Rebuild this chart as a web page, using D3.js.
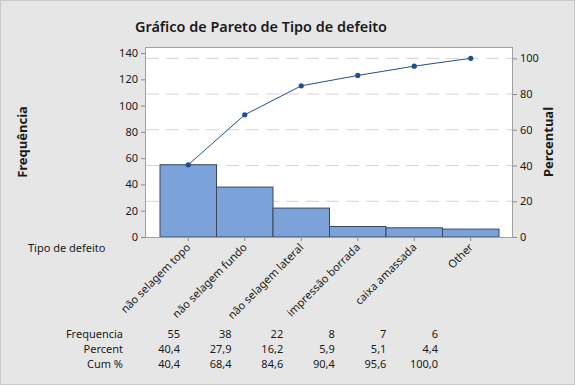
<!DOCTYPE html>
<html>
<head>
<meta charset="utf-8">
<script src="https://cdn.jsdelivr.net/npm/d3@7"></script>
<style>
  body { margin: 0; background: #e6e6e6; }
  svg text { font-family: "Noto Sans", "Open Sans", sans-serif; fill: #1a1a1a; }
</style>
</head>
<body>
<div id="chart"></div>
<script>
const categories = ['não selagem topo', 'não selagem fundo', 'não selagem lateral', 'impressão borrada', 'caixa amassada', 'Other'];
const counts = [55, 38, 22, 8, 7, 6];
const percents = ['40,4', '27,9', '16,2', '5,9', '5,1', '4,4'];
const cumPercents = [40.4, 68.4, 84.6, 90.4, 95.6, 100.0];
const leftTicks = [0, 20, 40, 60, 80, 100, 120, 140];
const rightTicks = [0, 20, 40, 60, 80, 100];
const rowLabels = ['Frequencia', 'Percent', 'Cum %'];

const w = 575;
const h = 385;
const plot = { left: 145, right: 513, top: 47, bottom: 237 };
const total = d3.sum(counts);

const svg = d3.select('#chart')
    .append('svg')
    .attr('width', w)
    .attr('height', h);

// background frame
svg.append('rect')
    .attr('x', 0.5).attr('y', 0.5)
    .attr('width', w - 1).attr('height', h - 1)
    .attr('fill', '#e6e6e6')
    .attr('stroke', '#c9c9c9');

svg.append('rect')
    .attr('x', plot.left).attr('y', plot.top)
    .attr('width', plot.right - plot.left)
    .attr('height', plot.bottom - plot.top)
    .attr('fill', '#fff');

// scales
const xScale = d3.scaleBand()
    .domain(categories)
    .range([160, 499])
    .padding(0);

const yScale = d3.scaleLinear()
    .domain([0, 144.6])
    .range([plot.bottom, plot.top]);

const pScale = d3.scaleLinear()
    .domain([0, 100])
    .range([plot.bottom, yScale(total)]);

// grid lines
svg.append('g')
    .selectAll('line')
    .data(rightTicks.filter(d => d > 0))
    .enter()
    .append('line')
    .attr('x1', plot.left + 1)
    .attr('x2', plot.right - 1)
    .attr('y1', d => pScale(d))
    .attr('y2', d => pScale(d))
    .attr('stroke', '#d4d4d4')
    .attr('stroke-dasharray', '13,7');

// bars
svg.selectAll('rect.bar')
    .data(counts)
    .enter()
    .append('rect')
    .attr('class', 'bar')
    .attr('x', (d, i) => xScale(categories[i]))
    .attr('y', d => yScale(d))
    .attr('width', xScale.bandwidth())
    .attr('height', d => plot.bottom - yScale(d))
    .attr('fill', '#7ba3d9')
    .attr('stroke', '#3c4656')
    .attr('stroke-width', 1);

// cumulative line
const line = d3.line()
    .x((d, i) => xScale(categories[i]) + xScale.bandwidth() / 2)
    .y(d => pScale(d));

svg.append('path')
    .datum(cumPercents)
    .attr('d', line)
    .attr('fill', 'none')
    .attr('stroke', '#1f5289')
    .attr('stroke-width', 1);

svg.selectAll('circle.pt')
    .data(cumPercents)
    .enter()
    .append('circle')
    .attr('class', 'pt')
    .attr('cx', (d, i) => xScale(categories[i]) + xScale.bandwidth() / 2)
    .attr('cy', d => pScale(d))
    .attr('r', 2.6)
    .attr('fill', '#1c4f91');

// plot border
svg.append('rect')
    .attr('x', plot.left + 0.5).attr('y', plot.top + 0.5)
    .attr('width', plot.right - plot.left - 1)
    .attr('height', plot.bottom - plot.top)
    .attr('fill', 'none')
    .attr('stroke', '#a0a0a0');

// axes
const yAxis = d3.axisLeft(yScale).tickValues(leftTicks).tickSize(4).tickPadding(3);
const pAxis = d3.axisRight(pScale).tickValues(rightTicks).tickSize(4).tickPadding(3);
const xAxis = d3.axisBottom(xScale).tickSize(3).tickFormat('');

function styleAxis(g) {
    g.select('.domain').remove();
    g.selectAll('line').attr('stroke', '#8a8a8a');
    g.selectAll('text').attr('font-size', 11).attr('fill', '#1a1a1a')
        .style('font-family', '"Noto Sans", sans-serif');
}

svg.append('g')
    .attr('transform', `translate(${plot.left}, 0)`)
    .call(yAxis)
    .call(styleAxis);

svg.append('g')
    .attr('transform', `translate(${plot.right}, 0)`)
    .call(pAxis)
    .call(styleAxis);

svg.append('g')
    .attr('transform', `translate(0, ${plot.bottom + 1})`)
    .call(xAxis)
    .call(styleAxis);

// category labels
svg.append('g')
    .selectAll('text')
    .data(categories)
    .enter()
    .append('text')
    .attr('transform', d => `translate(${xScale(d) + xScale.bandwidth() / 2 + 3}, ${plot.bottom + 11}) rotate(-45)`)
    .attr('text-anchor', 'end')
    .attr('font-size', 11)
    .text(d => d);

svg.append('text')
    .attr('x', 28).attr('y', 252)
    .attr('font-size', 11)
    .text('Tipo de defeito');

// titles
svg.append('text')
    .attr('x', 261).attr('y', 32)
    .attr('text-anchor', 'middle')
    .attr('font-size', 15)
    .attr('font-weight', 600)
    .attr('textLength', 252)
    .attr('lengthAdjust', 'spacingAndGlyphs')
    .text('Gráfico de Pareto de Tipo de defeito');

svg.append('text')
    .attr('transform', 'translate(27, 142) rotate(-90)')
    .attr('text-anchor', 'middle')
    .attr('font-size', 13)
    .attr('font-weight', 'bold')
    .text('Frequência');

svg.append('text')
    .attr('transform', 'translate(553, 142) rotate(-90)')
    .attr('text-anchor', 'middle')
    .attr('font-size', 13)
    .attr('font-weight', 'bold')
    .text('Percentual');

// table under the chart
const tableX = d3.scalePoint()
    .domain(categories)
    .range([180, 438]);

const rows = [
    counts.map(String),
    percents,
    cumPercents.map(d => d.toFixed(1).replace('.', ','))
];

rows.forEach((row, r) => {
    const y = 338 + r * 15;
    svg.append('text')
        .attr('x', 123).attr('y', y)
        .attr('text-anchor', 'end')
        .attr('font-size', 11)
        .text(rowLabels[r]);
    svg.append('g')
        .selectAll('text')
        .data(row)
        .enter()
        .append('text')
        .attr('x', (d, i) => tableX(categories[i]))
        .attr('y', y)
        .attr('text-anchor', 'end')
        .attr('font-size', 11)
        .text(d => d);
});
</script>
</body>
</html>
